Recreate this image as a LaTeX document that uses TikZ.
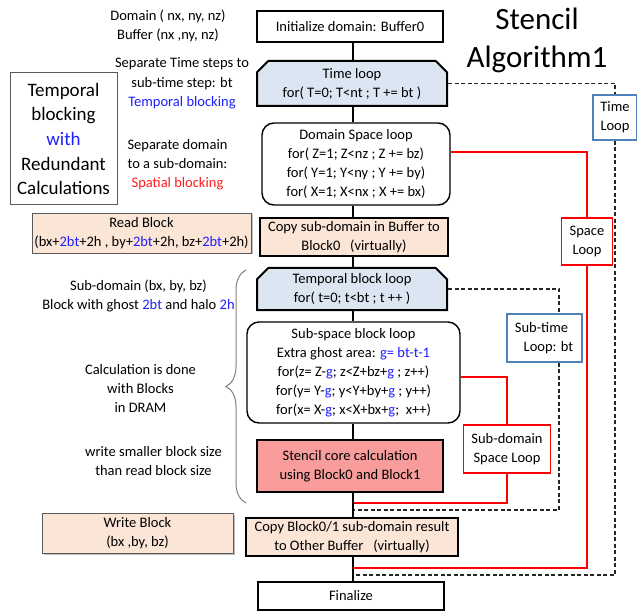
\documentclass[tikz,border=0pt]{standalone}
\usepackage{fontspec}
\setmainfont{Carlito}
\usetikzlibrary{shapes.misc,decorations.pathreplacing,shadows}

\definecolor{loopblue}{RGB}{220,230,242}
\definecolor{peach}{RGB}{251,229,214}
\definecolor{corepink}{RGB}{248,156,156}
\definecolor{frameblue}{RGB}{79,129,189}
\definecolor{txtblue}{RGB}{30,30,255}
\definecolor{txtred}{RGB}{255,30,30}
\definecolor{loopred}{RGB}{255,0,0}
\definecolor{edgegray}{RGB}{90,90,90}

\newcommand{\bl}[1]{\textcolor{txtblue}{#1}}
\newcommand{\rd}[1]{\textcolor{txtred}{#1}}

\begin{document}
\begin{tikzpicture}[x=1pt,y=-1pt,
  txt/.style={font=\fontsize{14.5}{19}\selectfont, align=center, inner sep=0pt},
  stepbox/.style={txt, draw=black, line width=1.5pt},
  boldbox/.style={stepbox, line width=2.4pt},
  roundbox/.style={stepbox, line width=1.4pt, rounded corners=12pt},
  loopbox/.style={stepbox, line width=2pt, fill=loopblue, chamfered rectangle,
    chamfered rectangle corners={north west,north east},
    chamfered rectangle xsep=8pt},
  notebox/.style={txt, draw=edgegray, fill=peach, line width=0.8pt,
    drop shadow={shadow xshift=1.5pt, shadow yshift=-1.5pt, fill=black, opacity=0.25}},
  bluetag/.style={txt, draw=frameblue, line width=1.5pt, fill=white},
  redtag/.style={txt, draw=loopred, line width=1.8pt, fill=white},
  spine/.style={line width=2pt, black},
  redloop/.style={draw=loopred, line width=1.3pt},
  dashloop/.style={draw=black!85, line width=1.3pt, dash pattern=on 4pt off 2.5pt},
]
\useasboundingbox (0,0) rectangle (637,612);

% title
\node[font=\fontsize{31}{38}\selectfont, anchor=base, inner sep=0pt] (title1) at (537,30) {Stencil};
\node[font=\fontsize{31}{38}\selectfont, anchor=base, inner sep=0pt] (title2) at (537,68) {Algorithm1};

% main flow
\coordinate (spine) at (353,0);
\node[stepbox, minimum width=186pt, minimum height=31pt] (init) at (350,26.5) {Initialize domain: Buffer0};
\node[loopbox, minimum width=190pt, minimum height=45pt] (tloop) at (352,83.5) {Time loop\\for( T=0; T<nt ; T += bt )};
\node[roundbox, minimum width=188pt, minimum height=82pt] (dsl) at (356,164)
  {Domain Space loop\\for( Z=1; Z<nz ; Z += bz)\\for( Y=1; Y<ny ; Y += by)\\for( X=1; X<nx ; X += bx)};
\node[boldbox, fill=peach, minimum width=188pt, minimum height=38pt] (copyin) at (354,237)
  {Copy sub-domain in Buffer to\\Block0\ \ \ (virtually)};
\node[loopbox, minimum width=190pt, minimum height=42pt] (tbl) at (352,289) {Temporal block loop\\for( t=0; t<bt ; t ++ )};
\node[roundbox, minimum width=213pt, minimum height=101pt] (ssbl) at (353.5,372.5)
  {Sub-space block loop\\Extra ghost area: \bl{g= bt-t-1}\\
   for(z= Z-\bl{g}; z<Z+bz+\bl{g} ; z++)\\
   for(y= Y-\bl{g}; y<Y+by+\bl{g} ; y++)\\
   for(x= X-\bl{g}; x<X+bx+\bl{g};\ \ x++)};
\node[boldbox, fill=corepink, minimum width=186pt, minimum height=52pt] (core) at (350,466)
  {Stencil core calculation\\using Block0 and Block1};
\node[boldbox, fill=peach, minimum width=212pt, minimum height=38pt] (copyout) at (352,537)
  {Copy Block0/1 sub-domain result\\to Other Buffer\ \ \ (virtually)};
\node[stepbox, minimum width=186pt, minimum height=28pt] (final) at (351,596) {Finalize};

% loop tags on the right
\node[bluetag, minimum width=44pt, minimum height=45pt] (timetag) at (615,117.5) {Time\\Loop};
\node[redtag, minimum width=51pt, minimum height=47pt] (spacetag) at (587,241.5) {Space\\Loop};
\node[bluetag, minimum width=75pt, minimum height=48pt] (subtimetag) at (544.5,338)
  {Sub-time\hspace*{6pt}\\\hspace*{8pt}Loop: bt};
\node[redtag, minimum width=87pt, minimum height=48pt] (subdomtag) at (507,449) {Sub-domain\\Space Loop};

% loop return ends on the spine
\coordinate (sd-end) at (353,503);
\coordinate (st-end) at (353,510);
\coordinate (sl-end) at (353,568);
\coordinate (tl-end) at (353,575);

% loop back lines
\draw[dashloop] (tloop.east) -| (timetag.north);
\draw[dashloop] (timetag.south) |- (tl-end);
\draw[redloop] ([yshift=12pt]dsl.east) -| (spacetag.north);
\draw[redloop] (spacetag.south) |- (sl-end);
\draw[dashloop] (tbl.east) -| ([xshift=14.5pt]subtimetag.north);
\draw[dashloop] ([xshift=14.5pt]subtimetag.south) |- (st-end);
\draw[redloop] ([yshift=-4.5pt]ssbl.east) -| (subdomtag.north);
\draw[redloop] (subdomtag.south) |- (sd-end);

% spine connectors
\draw[spine] (init.south -| spine) -- (tloop.north -| spine);
\draw[spine] (tloop.south -| spine) -- (dsl.north -| spine);
\draw[spine] (dsl.south -| spine) -- (copyin.north -| spine);
\draw[spine] (copyin.south -| spine) -- (tbl.north -| spine);
\draw[spine] (tbl.south -| spine) -- (ssbl.north -| spine);
\draw[spine] (ssbl.south -| spine) -- (core.north -| spine);
\draw[spine] (core.south -| spine) -- (copyout.north -| spine);
\draw[spine] (copyout.south -| spine) -- (final.north -| spine);

% left column notes
\node[txt, draw=edgegray, line width=1pt, minimum width=107pt, minimum height=132pt,
  font=\fontsize{19}{24.7}\selectfont] (tbr) at (63.5,139)
  {Temporal\\blocking\\\bl{with}\\Redundant\\Calculations};
\node[txt] (domtxt) at (168,26) {Domain ( nx, ny, nz)\\Buffer (nx ,ny, nz)};
\node[txt, font=\fontsize{14.5}{19.5}\selectfont] (septime) at (182,83.5)
  {Separate Time steps to\\sub-time step: bt\\\bl{Temporal blocking}};
\node[txt] (sepdom) at (177.5,165) {Separate domain\\to a sub-domain:\\\rd{Spatial blocking}};
\node[notebox, minimum width=219pt, minimum height=40pt] (readblk) at (141.5,233)
  {Read Block\\(bx+\bl{2bt}+2h , by+\bl{2bt}+2h, bz+\bl{2bt}+2h)};
\node[txt] (subdomtxt) at (138.5,296) {Sub-domain (bx, by, bz)\\Block with ghost \bl{2bt} and halo \bl{2h}};
\node[txt] (calctxt) at (140.5,388.5) {Calculation is done\\with Blocks\\in DRAM};
\node[txt] (writetxt) at (153.5,461.5) {write smaller block size\\than read block size};
\node[notebox, minimum width=191pt, minimum height=40pt] (writeblk) at (137.5,533) {Write Block\\(bx ,by, bz)};

% brace grouping the block-level steps
\coordinate (brace-bot) at (246,503);
\coordinate (brace-top) at (246,270);
\draw[decorate, decoration={brace, amplitude=20pt}, draw=gray, line width=1pt] (brace-bot) -- (brace-top);
\end{tikzpicture}
\end{document}
